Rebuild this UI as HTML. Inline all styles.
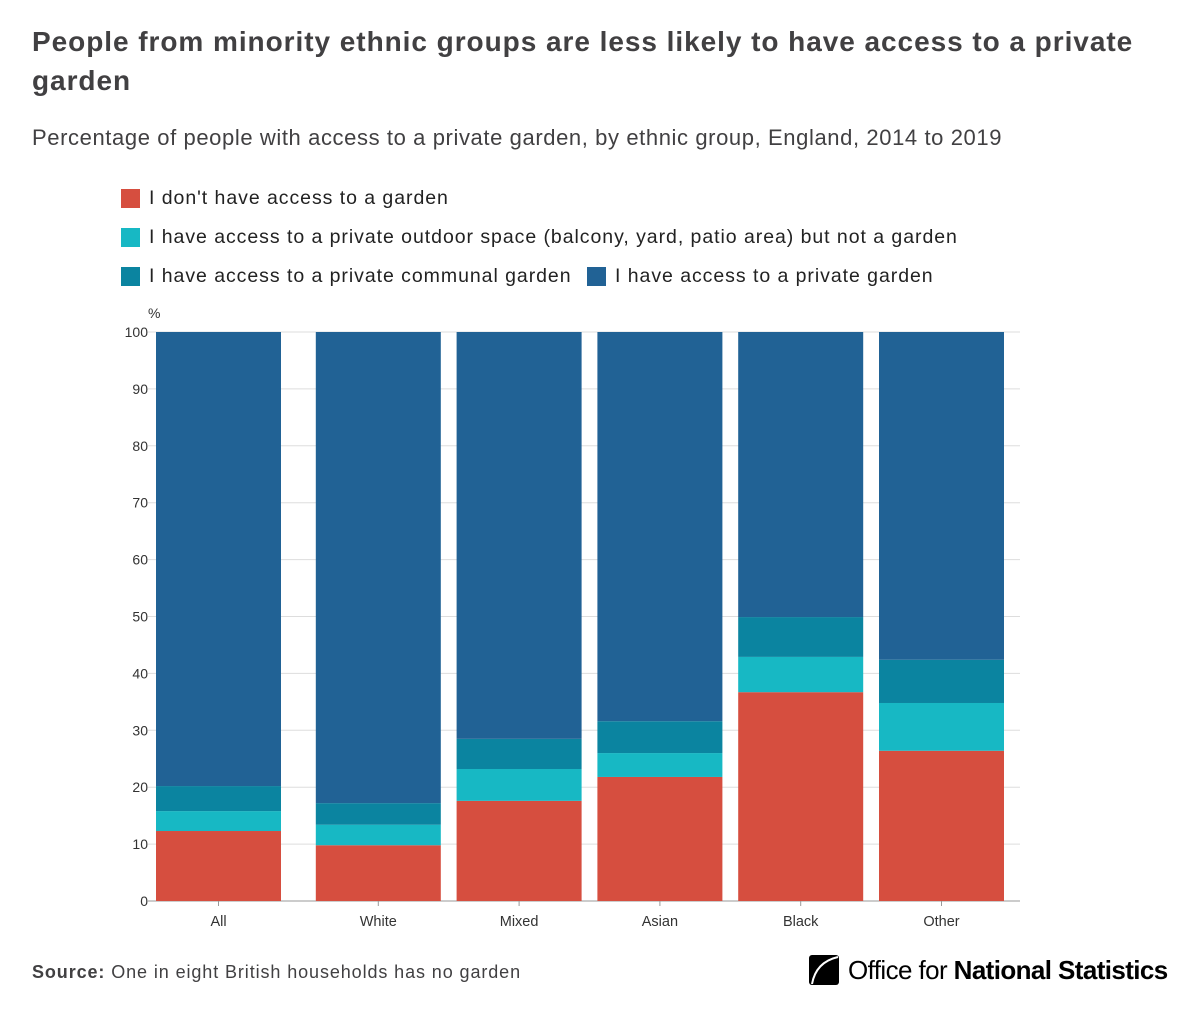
<!DOCTYPE html>
<html><head><meta charset="utf-8"><style>
body{margin:0;width:1200px;height:1013px;background:#fff;font-family:"Liberation Sans",sans-serif;overflow:hidden;position:relative}
#title{position:absolute;left:32px;top:22px;width:1160px;font-size:28px;font-weight:bold;color:#414042;line-height:39px;margin:0;letter-spacing:0.95px}
#sub{position:absolute;left:32px;top:125px;font-size:22px;color:#414042;letter-spacing:0.6px}
.leg{position:absolute;font-size:19.5px;color:#222;display:flex;align-items:center;letter-spacing:0.95px}
.sw{width:19px;height:19px;margin-right:9px;display:inline-block}
#source{position:absolute;left:32px;top:962px;font-size:18px;color:#414042;letter-spacing:0.9px}
#logo{position:absolute;left:808px;top:954px;font-size:26px;color:#000;display:flex;align-items:center;letter-spacing:-0.6px}
</style></head><body>
<h1 id="title">People from minority ethnic groups are less likely to have access to a private<br>garden</h1>
<div id="sub">Percentage of people with access to a private garden, by ethnic group, England, 2014 to 2019</div>
<div class="leg" style="left:121px;top:187px"><span class="sw" style="background:#d64e3f"></span>I don't have access to a garden</div>
<div class="leg" style="left:121px;top:226px"><span class="sw" style="background:#17b8c4"></span>I have access to a private outdoor space (balcony, yard, patio area) but not a garden</div>
<div class="leg" style="left:121px;top:265px"><span class="sw" style="background:#0b84a0"></span>I have access to a private communal garden</div>
<div class="leg" style="left:587px;top:265px"><span class="sw" style="background:#216295"></span>I have access to a private garden</div>
<svg id="chart" width="1200" height="1013" style="position:absolute;left:0;top:0"></svg>
<div id="source"><b>Source:</b> One in eight British households has no garden</div>
<div id="logo"><svg width="32" height="32" viewBox="0 0 32 32" style="margin-right:8px"><rect x="1" y="1" width="30" height="30" rx="3" fill="#000"/><path d="M30 3 Q8 8 4 30" stroke="#fff" stroke-width="2" fill="none"/></svg><span>Office for&nbsp;</span><span style="font-weight:bold">National Statistics</span></div>
<script>
const categories=["All","White","Mixed","Asian","Black","Other"];
const noGarden=[12.3,9.8,17.6,21.8,36.7,26.4];
const outdoorSpace=[3.5,3.6,5.6,4.2,6.2,8.4];
const communal=[4.4,3.8,5.3,5.6,7.0,7.6];
const privateGarden=[79.8,82.8,71.5,68.4,50.1,57.6];
const yTicks=[0,10,20,30,40,50,60,70,80,90,100];
const NS="http://www.w3.org/2000/svg";
const svg=document.getElementById('chart');
const y0=901,y1=332,left=148,right=1020;
const y=v=>y0-(v/100)*(y0-y1);
const step=140.8,start=175,bw=125;
const x=i=>i===0?156:start+i*step;
function mk(t,a){const e=document.createElementNS(NS,t);for(const k in a)e.setAttribute(k,a[k]);svg.appendChild(e);return e;}
yTicks.forEach(t=>{
 const l=mk('line',{x1:left,x2:right,y1:y(t),y2:y(t),stroke:t===0?'#999':'#ddd','stroke-width':1});
 
 
 const tx=mk('text',{x:left,y:y(t)+5,'text-anchor':'end','font-size':14,fill:'#333'});
 tx.textContent=t;
 
 
});
const u=mk('text',{x:148,y:318,'font-size':14,fill:'#333'});u.textContent='%';


const series=[[noGarden,'#d64e3f','no-garden'],[outdoorSpace,'#17b8c4','outdoor-space'],[communal,'#0b84a0','communal-garden'],[privateGarden,'#216295','private-garden']];
categories.forEach((c,i)=>{
 let acc=0;
 series.forEach(([arr,col,nm])=>{
  const v=arr[i];
  const r=mk('rect',{x:x(i),width:bw,y:y(acc+v),height:y(acc)-y(acc+v),fill:col});
  
  
  acc+=v;
 });
 const tl=mk('line',{x1:x(i)+bw/2,x2:x(i)+bw/2,y1:y0,y2:y0+5,stroke:'#999'});
 
 
 const t=mk('text',{x:x(i)+bw/2,y:y0+25,'text-anchor':'middle','font-size':14.5,fill:'#333'});
 t.textContent=c;
 
 
});
</script>
</body></html>
